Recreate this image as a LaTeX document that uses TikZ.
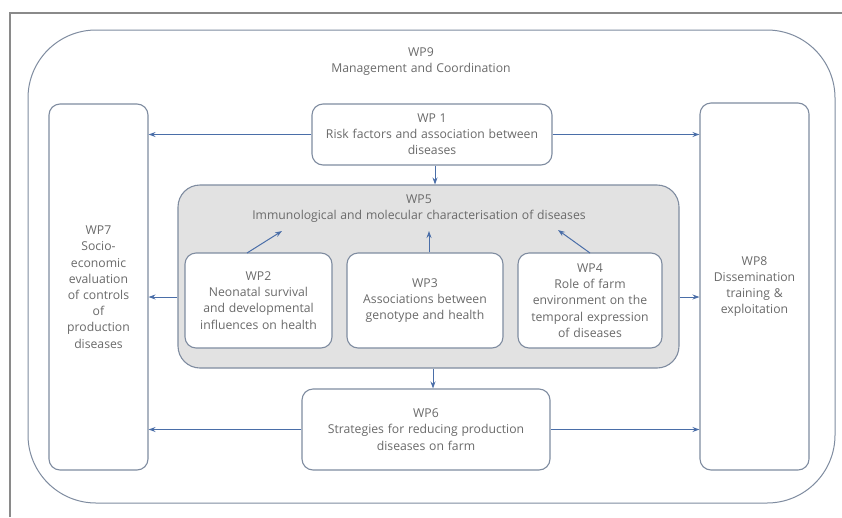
\documentclass[tikz,border=0pt]{standalone}
\usepackage{fontspec}
\setmainfont{Open Sans}[WordSpace={1.2}]
\usetikzlibrary{arrows.meta}
\definecolor{boxc}{HTML}{7F8CA0}
\definecolor{arrc}{HTML}{4A6EA8}
\definecolor{txtc}{HTML}{6A6A6A}
\definecolor{grayfill}{HTML}{E2E2E2}
\definecolor{framec}{HTML}{8A8A8A}
\tikzset{
  wpbox/.style={draw=boxc, line width=1.1pt, fill=white, rounded corners=11pt, align=center,
    text=txtc, font=\fontsize{12.2}{16.2}\selectfont, inner sep=2pt},
  wptext/.style={align=center, text=txtc, font=\fontsize{12.2}{16.2}\selectfont, inner sep=0pt},
  arr/.style={draw=arrc, line width=1pt, -{Stealth[length=7pt,width=5pt]}}
}
\begin{document}
\begin{tikzpicture}[x=1pt,y=-1pt]
\useasboundingbox (0,0) rectangle (842,517);
\fill[white] (0,0) rectangle (842,517);
% outer page frame
\draw[framec, line width=1.3pt] (10,517) -- (10,13) -- (842,13);
% WP9
\node[draw=boxc, line width=1pt, rounded corners=68pt, minimum width=807pt, minimum height=473pt, inner sep=0pt] (wp9) at (431.5,266.5) {};
\node[wptext] (wp9t) at (421,61.5) {WP9\\Management and Coordination};
% WP5
\node[draw=boxc, line width=1.1pt, fill=grayfill, rounded corners=22pt, minimum width=501pt, minimum height=183pt, inner sep=0pt] (wp5) at (428.5,276.5) {};
\node[wptext] (wp5t) at (419,208.5) {WP5\\Immunological and molecular characterisation of diseases};
% boxes
\node[wpbox, minimum width=240pt, minimum height=61pt] (wp1) at (432,134.5) {WP 1\\Risk factors and association between\\diseases};
\node[wpbox, minimum width=99pt, minimum height=366pt] (wp7) at (98.5,287) {WP7\\Socio-\\economic\\evaluation\\of controls\\of\\production\\diseases};
\node[wpbox, minimum width=109pt, minimum height=367pt] (wp8) at (754.5,286.5) {WP8\\Dissemination\\training \&\\exploitation};
\node[wpbox, minimum width=147pt, minimum height=95pt] (wp2) at (258.5,300.5) {WP2\\Neonatal survival\\and developmental\\influences on health};
\node[wpbox, minimum width=156pt, minimum height=95pt] (wp3) at (425,300.5) {WP3\\Associations between\\genotype and health};
\node[wpbox, minimum width=144pt, minimum height=95pt] (wp4) at (590,300.5) {WP4\\Role of farm\\environment on the\\temporal expression\\of diseases};
\node[wpbox, minimum width=248pt, minimum height=81pt] (wp6) at (426,429.5) {WP6\\Strategies for reducing production\\diseases on farm};
% helper coordinates
\coordinate (cx1) at (435,0);
\coordinate (cx2) at (433,0);
\coordinate (cy5) at (0,297);
\coordinate (t2) at (282,231);
\coordinate (t3) at (429,231);
\coordinate (t4) at (558,230);
\coordinate (s2) at (247,253);
\coordinate (s4) at (590,253);
% arrows
\draw[arr] (wp1.west) -- (wp7.east |- wp1.west);
\draw[arr] (wp1.east) -- (wp8.west |- wp1.east);
\draw[arr] (wp1.south -| cx1) -- (wp5.north -| cx1);
\draw[arr] (wp5.west |- cy5) -- (wp7.east |- cy5);
\draw[arr] (wp5.east |- cy5) -- (wp8.west |- cy5);
\draw[arr] (wp5.south -| cx2) -- (wp6.north -| cx2);
\draw[arr] (wp6.west) -- (wp7.east |- wp6.west);
\draw[arr] (wp6.east) -- (wp8.west |- wp6.east);
\draw[arr] (s2) -- (t2);
\draw[arr] (wp3.north -| t3) -- (t3);
\draw[arr] (s4) -- (t4);
\end{tikzpicture}
\end{document}
